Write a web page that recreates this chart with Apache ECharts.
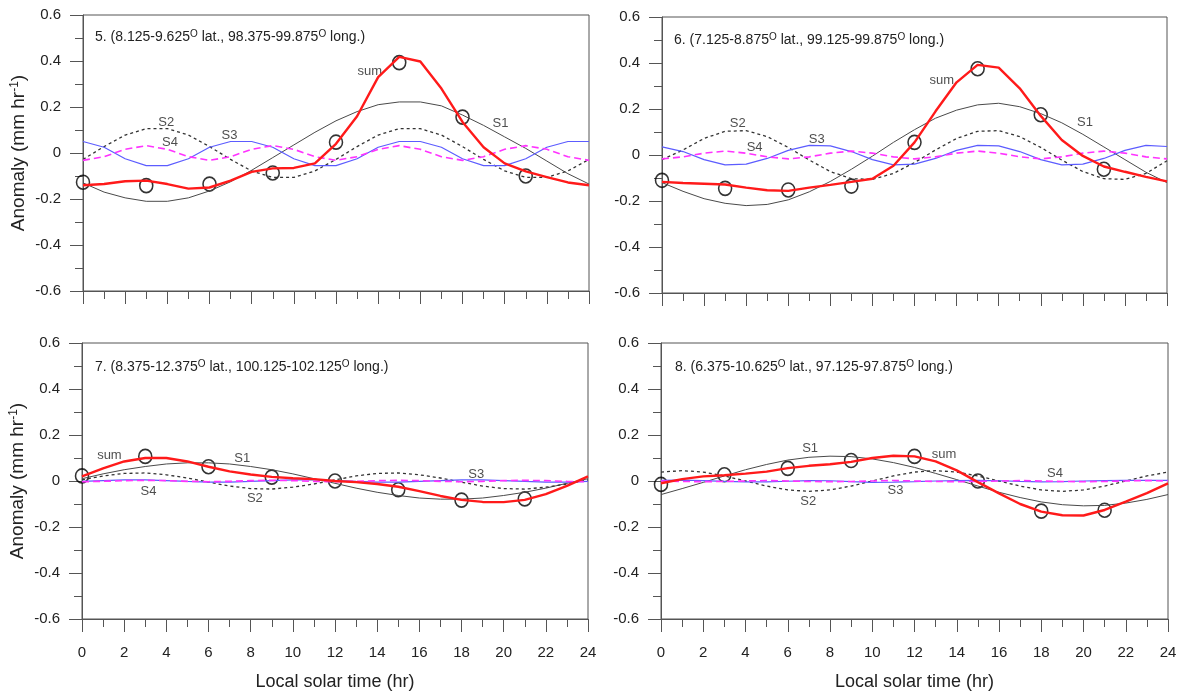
<!DOCTYPE html>
<html>
<head>
<meta charset="utf-8">
<script src="https://cdn.jsdelivr.net/npm/echarts@6/dist/echarts.min.js"></script>
<style>
html, body { margin: 0; padding: 0; background: #fff; }
#main { width: 1181px; height: 693px; }
</style>
</head>
<body>
<div id="main"></div>
<script>
// hourly points 0..24, observations every 3 hr
var hours = [0,1,2,3,4,5,6,7,8,9,10,11,12,13,14,15,16,17,18,19,20,21,22,23,24];
var obsHours = [0,3,6,9,12,15,18,21];

// panel 5
var p5S1 = [-0.13,-0.17,-0.195,-0.21,-0.21,-0.195,-0.165,-0.125,-0.075,-0.02,0.035,0.09,0.14,0.18,0.21,0.222,0.222,0.205,0.165,0.12,0.07,0.02,-0.035,-0.09,-0.135];
var p5S2 = [-0.028,0.028,0.078,0.106,0.106,0.078,0.028,-0.028,-0.078,-0.106,-0.106,-0.078,-0.028,0.028,0.078,0.106,0.106,0.078,0.028,-0.028,-0.078,-0.106,-0.106,-0.078,-0.028];
var p5S3 = [0.05,0.025,-0.025,-0.055,-0.055,-0.025,0.025,0.05,0.05,0.025,-0.025,-0.055,-0.055,-0.025,0.025,0.05,0.05,0.025,-0.025,-0.055,-0.055,-0.025,0.025,0.05,0.05];
var p5S4 = [-0.032,-0.016,0.016,0.032,0.016,-0.016,-0.032,-0.016,0.016,0.032,0.016,-0.016,-0.032,-0.016,0.016,0.032,0.016,-0.016,-0.032,-0.016,0.016,0.032,0.016,-0.016,-0.032];
var p5Sum = [-0.14,-0.135,-0.123,-0.12,-0.135,-0.155,-0.15,-0.12,-0.082,-0.067,-0.065,-0.045,0.04,0.16,0.33,0.418,0.398,0.28,0.135,0.025,-0.045,-0.08,-0.105,-0.128,-0.14];
var p5Obs = [-0.127,-0.142,-0.135,-0.087,0.047,0.393,0.156,-0.1];
var p5Labels = [[19.8,0.127,'S1'],[3.95,0.135,'S2'],[6.95,0.076,'S3'],[4.13,0.047,'S4'],[13.6,0.356,'sum']];

// panel 6
var p6S1 = [-0.12,-0.158,-0.19,-0.21,-0.22,-0.215,-0.195,-0.16,-0.115,-0.062,-0.005,0.055,0.11,0.16,0.195,0.218,0.225,0.21,0.18,0.14,0.09,0.035,-0.02,-0.075,-0.12];
var p6S2 = [-0.02,0.022,0.072,0.103,0.106,0.08,0.033,-0.022,-0.072,-0.103,-0.106,-0.08,-0.033,0.022,0.072,0.103,0.106,0.08,0.033,-0.022,-0.072,-0.103,-0.106,-0.08,-0.025];
var p6S3 = [0.035,0.015,-0.02,-0.043,-0.04,-0.015,0.02,0.042,0.04,0.015,-0.02,-0.043,-0.04,-0.015,0.02,0.042,0.04,0.015,-0.02,-0.043,-0.04,-0.015,0.02,0.042,0.037];
var p6S4 = [-0.017,-0.008,0.008,0.017,0.008,-0.008,-0.017,-0.008,0.008,0.017,0.008,-0.008,-0.017,-0.008,0.008,0.017,0.008,-0.008,-0.017,-0.008,0.008,0.017,0.008,-0.008,-0.017];
var p6Sum = [-0.117,-0.122,-0.125,-0.128,-0.142,-0.153,-0.156,-0.142,-0.13,-0.117,-0.103,-0.047,0.055,0.19,0.316,0.392,0.38,0.29,0.17,0.065,-0.004,-0.05,-0.073,-0.095,-0.115];
var p6Obs = [-0.11,-0.145,-0.152,-0.135,0.055,0.375,0.175,-0.062];
var p6Labels = [[20.1,0.142,'S1'],[3.6,0.139,'S2'],[7.35,0.069,'S3'],[4.4,0.033,'S4'],[13.3,0.324,'sum']];

// panel 7
var p7S1 = [0.01,0.031,0.049,0.063,0.074,0.079,0.079,0.074,0.063,0.049,0.031,0.01,-0.01,-0.031,-0.049,-0.063,-0.074,-0.079,-0.079,-0.074,-0.063,-0.049,-0.031,-0.01,0.01];
var p7S2 = [0.005,0.022,0.033,0.035,0.027,0.013,-0.005,-0.022,-0.033,-0.035,-0.027,-0.013,0.005,0.022,0.033,0.035,0.027,0.013,-0.005,-0.022,-0.033,-0.035,-0.027,-0.013,0.005];
var p7S3 = [-0.002,0.002,0.005,0.005,0.002,-0.002,-0.005,-0.005,-0.002,0.002,0.005,0.005,0.002,-0.002,-0.005,-0.005,-0.002,0.002,0.005,0.005,0.002,-0.002,-0.005,-0.005,-0.002];
var p7S4 = [-0.003,-0.0015,0.0015,0.003,0.0015,-0.0015,-0.003,-0.0015,0.0015,0.003,0.0015,-0.0015,-0.003,-0.0015,0.0015,0.003,0.0015,-0.0015,-0.003,-0.0015,0.0015,0.003,0.0015,-0.0015,-0.003];
var p7Sum = [0.02,0.055,0.085,0.1,0.1,0.085,0.062,0.042,0.028,0.018,0.012,0.008,0.0,-0.005,-0.013,-0.025,-0.044,-0.065,-0.082,-0.091,-0.092,-0.082,-0.057,-0.021,0.02];
var p7Obs = [0.022,0.107,0.062,0.017,0.0,-0.038,-0.083,-0.078];
var p7Labels = [[7.6,0.1,'S1'],[8.2,-0.075,'S2'],[18.7,0.03,'S3'],[3.15,-0.046,'S4'],[1.3,0.111,'sum']];

// panel 8
var p8S1 = [-0.059,-0.033,-0.006,0.022,0.049,0.072,0.091,0.103,0.108,0.106,0.096,0.08,0.059,0.033,0.006,-0.022,-0.049,-0.072,-0.091,-0.103,-0.108,-0.106,-0.096,-0.08,-0.059];
var p8S2 = [0.039,0.045,0.039,0.022,0,-0.022,-0.039,-0.045,-0.039,-0.022,0,0.022,0.039,0.045,0.039,0.022,0,-0.022,-0.039,-0.045,-0.039,-0.022,0,0.022,0.039];
var p8S3 = [0.003,0.004,0.002,-0.002,-0.004,-0.004,-0.001,0.002,0.001,-0.003,-0.006,-0.005,-0.003,0.0,0.002,0.003,0.001,-0.002,-0.004,-0.003,0.0,0.002,0.003,0.003,0.003];
var p8S4 = [0.0,-0.002,-0.003,-0.002,0.0,0.002,0.0,-0.002,-0.003,-0.002,0.0,0.002,0.0,-0.002,-0.003,-0.002,0.0,0.002,0.0,-0.002,-0.003,-0.002,0.0,0.002,0.0];
var p8Sum = [-0.01,0.008,0.02,0.025,0.032,0.041,0.056,0.066,0.073,0.083,0.1,0.11,0.107,0.085,0.046,-0.005,-0.054,-0.1,-0.133,-0.149,-0.15,-0.126,-0.09,-0.053,-0.01];
var p8Obs = [-0.015,0.027,0.055,0.089,0.107,0.0,-0.131,-0.127];
var p8Labels = [[7.06,0.143,'S1'],[6.97,-0.089,'S2'],[11.1,-0.043,'S3'],[18.65,0.031,'S4'],[13.4,0.114,'sum']];

var panelTitles = [
  '5. (8.125-9.625{o|O} lat., 98.375-99.875{o|O} long.)',
  '6. (7.125-8.875{o|O} lat., 99.125-99.875{o|O} long.)',
  '7. (8.375-12.375{o|O} lat., 100.125-102.125{o|O} long.)',
  '8. (6.375-10.625{o|O} lat., 97.125-97.875{o|O} long.)'
];

var FONT = "'Liberation Sans', Arial, sans-serif";
var AXC = '#555';

var grids = [
  {left: 83, top: 15, width: 506, height: 276},
  {left: 662, top: 17, width: 505, height: 276},
  {left: 82, top: 343, width: 506, height: 276},
  {left: 661, top: 343, width: 507, height: 276}
];
var titlePos = [[90, 24], [669, 27], [90, 354], [670, 354]];

function pair(xs, ys) {
  return xs.map(function (x, i) { return [x, ys[i]]; });
}

var xAxes = [], yAxes = [], series = [], titles = [];
var panels = [
  [p5S1, p5S2, p5S3, p5S4, p5Sum, p5Obs, p5Labels],
  [p6S1, p6S2, p6S3, p6S4, p6Sum, p6Obs, p6Labels],
  [p7S1, p7S2, p7S3, p7S4, p7Sum, p7Obs, p7Labels],
  [p8S1, p8S2, p8S3, p8S4, p8Sum, p8Obs, p8Labels]
];

panels.forEach(function (p, i) {
  var bottomRow = i >= 2;
  var leftCol = i % 2 === 0;
  xAxes.push({
    gridIndex: i, type: 'value', min: 0, max: 24, interval: 2,
    axisLine: {onZero: false, lineStyle: {color: AXC, width: 1}},
    axisTick: {show: true, inside: false, length: 13, lineStyle: {color: AXC}},
    minorTick: {show: true, splitNumber: 2, length: 8, lineStyle: {color: AXC}},
    splitLine: {show: false},
    axisLabel: {show: bottomRow, margin: 26, fontSize: 15, color: '#222', fontFamily: FONT},
    name: bottomRow ? 'Local solar time (hr)' : '',
    nameLocation: 'middle', nameGap: 54,
    nameTextStyle: {fontSize: 18, color: '#222', fontFamily: FONT}
  });
  yAxes.push({
    gridIndex: i, type: 'value', min: -0.6, max: 0.6, interval: 0.2,
    axisLine: {show: true, onZero: false, lineStyle: {color: AXC, width: 1}},
    axisTick: {show: true, inside: false, length: 13, lineStyle: {color: AXC}},
    minorTick: {show: true, splitNumber: 2, length: 8, lineStyle: {color: AXC}},
    splitLine: {show: false},
    axisLabel: {
      margin: 22, fontSize: 15, color: '#222', fontFamily: FONT,
      formatter: function (v) { return String(+v.toFixed(1)); }
    },
    name: leftCol ? 'Anomaly (mm hr{s|-1})' : '',
    nameLocation: 'middle', nameGap: 54,
    nameTextStyle: {
      fontSize: 19, color: '#222', fontFamily: FONT,
      rich: {s: {fontSize: 12, fontFamily: FONT, color: '#222', verticalAlign: 'top', padding: [0, 0, 8, 0]}}
    }
  });
  titles.push({
    text: panelTitles[i], left: titlePos[i][0], top: titlePos[i][1],
    textStyle: {
      fontSize: 14, fontWeight: 'normal', color: '#222', fontFamily: FONT,
      rich: {o: {fontSize: 10, fontFamily: FONT, color: '#222', verticalAlign: 'top', padding: [0, 0, 7, 0]}}
    }
  });

  var base = {type: 'line', xAxisIndex: i, yAxisIndex: i, symbol: 'none', silent: true, animation: false};
  series.push(Object.assign({}, base, {name: 'S1', data: pair(hours, p[0]), lineStyle: {color: '#4a4a4a', width: 1}}));
  series.push(Object.assign({}, base, {name: 'S2', data: pair(hours, p[1]), lineStyle: {color: '#333', width: 1.3, type: [3, 3]}}));
  series.push(Object.assign({}, base, {name: 'S3', data: pair(hours, p[2]), lineStyle: {color: '#5c5cff', width: 1.2}}));
  series.push(Object.assign({}, base, {name: 'S4', data: pair(hours, p[3]), lineStyle: {color: '#ff33ff', width: 1.6, type: [7, 4]}}));
  series.push(Object.assign({}, base, {name: 'sum', data: pair(hours, p[4]), lineStyle: {color: '#ff1a1a', width: 2.4}}));
  series.push({
    type: 'scatter', xAxisIndex: i, yAxisIndex: i, silent: true, animation: false,
    data: pair(obsHours, p[5]), symbol: 'circle', symbolSize: [13, 14],
    itemStyle: {color: 'rgba(0,0,0,0)', borderColor: '#000', borderWidth: 1.6}
  });
  series.push({
    type: 'scatter', xAxisIndex: i, yAxisIndex: i, silent: true, animation: false,
    data: p[6], symbolSize: 0,
    label: {
      show: true, position: 'inside', fontSize: 13, color: '#222', fontFamily: FONT,
      formatter: function (d) { return d.data[2]; }
    }
  });
});

var chart = echarts.init(document.getElementById('main'));
chart.setOption({
  backgroundColor: '#fff',
  animation: false,
  title: titles,
  grid: grids.map(function (g) {
    return Object.assign({show: true, borderColor: AXC, borderWidth: 1, backgroundColor: 'transparent'}, g);
  }),
  xAxis: xAxes,
  yAxis: yAxes,
  series: series
});
</script>
</body>
</html>
